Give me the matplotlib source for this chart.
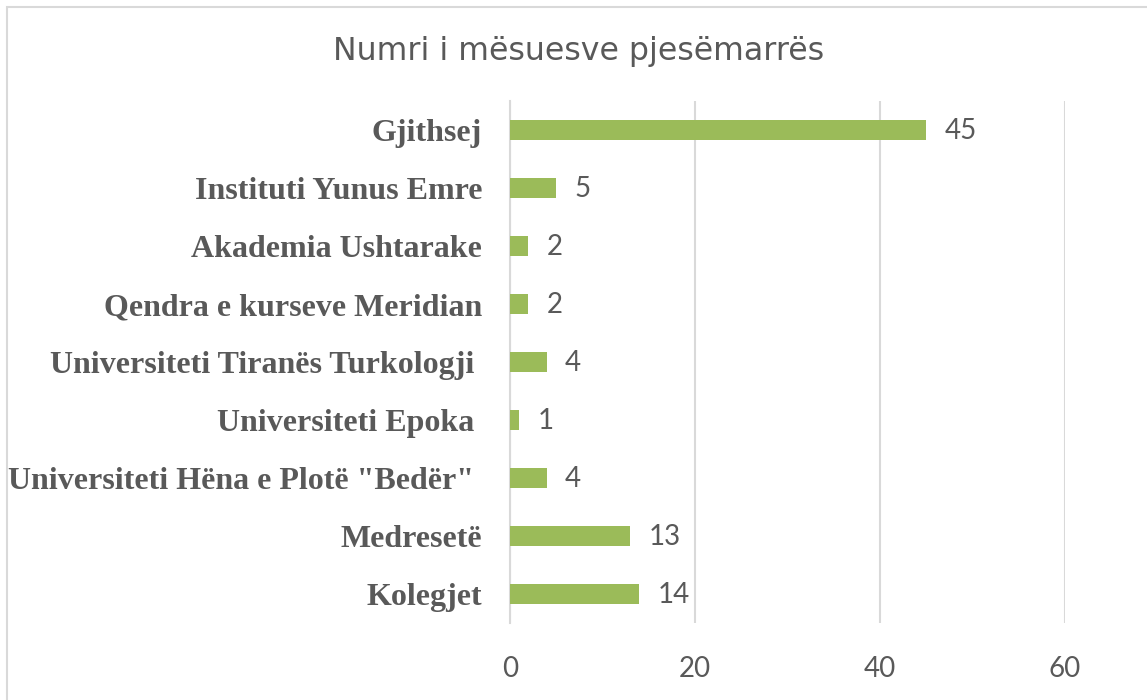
import matplotlib
matplotlib.use('Agg')
import matplotlib.pyplot as plt
import numpy as np

kategorite = ['Kolegjet', 'Medresetë', 'Universiteti Hëna e Plotë "Bedër" ',
              'Universiteti Epoka ', 'Universiteti Tiranës Turkologji ',
              'Qendra e kurseve Meridian', 'Akademia Ushtarake',
              'Instituti Yunus Emre', 'Gjithsej']
mesues = [14, 13, 4, 1, 4, 2, 2, 5, 45]
x_ticks = [0, 20, 40, 60]

gri = '#595959'
fig = plt.figure(figsize=(11.47, 7), dpi=100)
ax = fig.add_axes([0.4446, 0.11, 0.4839, 0.7457])

y = np.arange(len(kategorite))
ax.barh(y, mesues, height=0.36, color='#9BBB59', zorder=3)
for yi, v in zip(y, mesues):
    ax.annotate(str(v), (v, yi), xytext=(13, -1), textcoords='offset points',
                va='center', ha='left', fontsize=20, color=gri,
                family='Lato')

ax.set_xlim(0, 60)
ax.set_ylim(-0.5, len(kategorite) - 0.5)
ax.set_xticks(x_ticks)
ax.set_yticks(y)
ax.set_yticklabels(kategorite, family='Liberation Serif', weight='bold',
                   fontsize=23, color=gri)
for lbl in ax.get_xticklabels():
    lbl.set_family('Lato')
    lbl.set_fontsize(20)
    lbl.set_color(gri)
ax.tick_params(axis='both', length=0)
ax.tick_params(axis='y', pad=20)
ax.tick_params(axis='x', pad=24)
ax.grid(axis='x', color='#D9D9D9', linewidth=1.5, zorder=0)
for s in ['top', 'right', 'bottom']:
    ax.spines[s].set_visible(False)
ax.spines['left'].set_color('#D9D9D9')
ax.spines['left'].set_linewidth(1.5)

fig.text(0.504, 0.926, 'Numri i mësuesve pjesëmarrës', ha='center', va='center',
         fontsize=22.8, color=gri, family='DejaVu Sans')

# korniza e grafikut
fig.patches.append(plt.Rectangle((7 / 1147, -0.1), 1.2, 1.1 - 7 / 700,
                                 transform=fig.transFigure, fill=False,
                                 edgecolor='#D9D9D9', linewidth=1.5))

plt.savefig('out.png', dpi=100)
